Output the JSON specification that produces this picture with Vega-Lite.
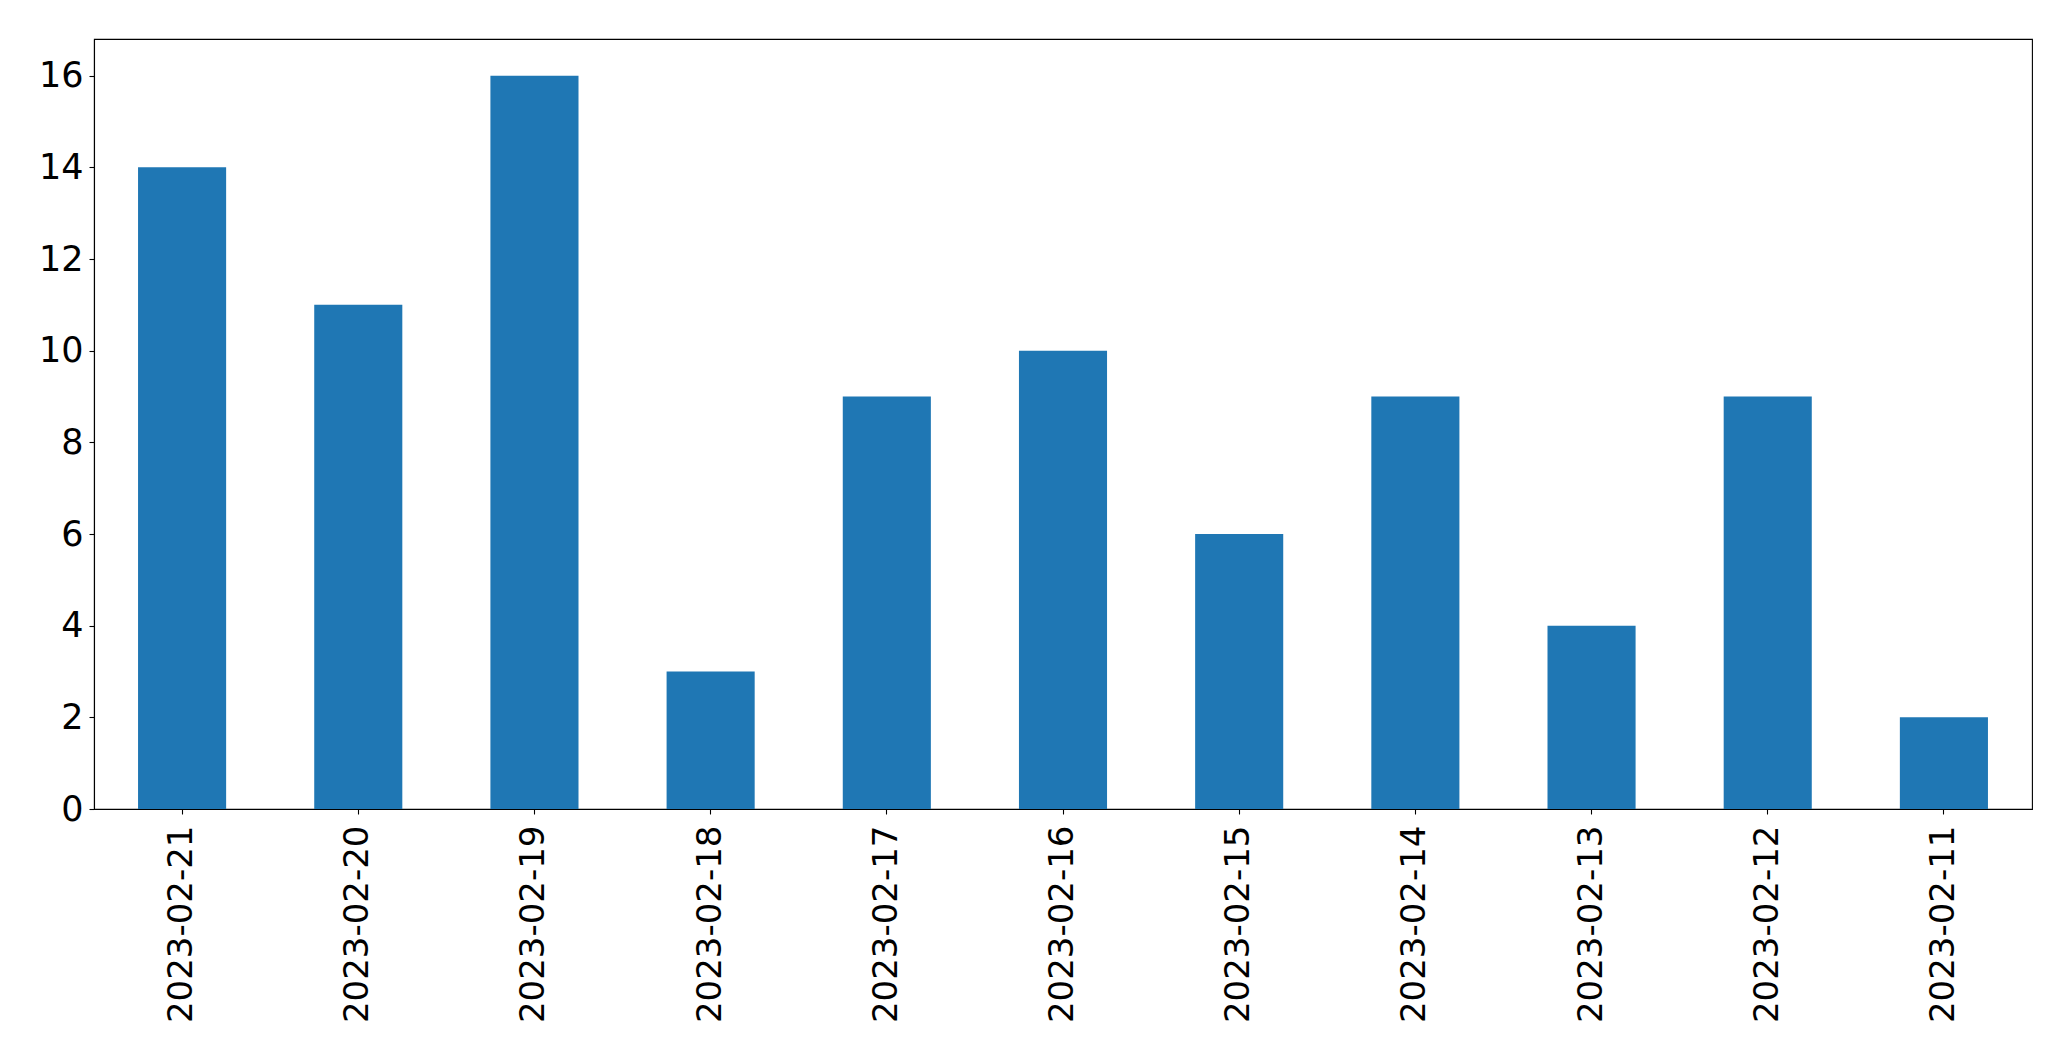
{
  "$schema": "https://vega.github.io/schema/vega-lite/v6.json",
  "autosize": {"type": "none"},
  "padding": {"left": 94, "top": 39, "right": 39, "bottom": 252},
  "width": 1938,
  "height": 770,
  "background": "white",
  "config": {
    "view": {"stroke": "black", "strokeWidth": 1.1},
    "font": "DejaVu Sans"
  },
  "data": {
    "values": [
      {"date": "2023-02-21", "count": 14},
      {"date": "2023-02-20", "count": 11},
      {"date": "2023-02-19", "count": 16},
      {"date": "2023-02-18", "count": 3},
      {"date": "2023-02-17", "count": 9},
      {"date": "2023-02-16", "count": 10},
      {"date": "2023-02-15", "count": 6},
      {"date": "2023-02-14", "count": 9},
      {"date": "2023-02-13", "count": 4},
      {"date": "2023-02-12", "count": 9},
      {"date": "2023-02-11", "count": 2}
    ]
  },
  "mark": {"type": "bar", "color": "#1f77b4"},
  "encoding": {
    "x": {
      "field": "date",
      "type": "nominal",
      "sort": null,
      "scale": {"paddingInner": 0.5, "paddingOuter": 0.25},
      "axis": {
        "title": null,
        "labelAngle": -90,
        "labelAlign": "right",
        "labelBaseline": "middle",
        "labelFont": "DejaVu Sans",
        "labelFontSize": 34,
        "labelLimit": 0,
        "labelColor": "black",
        "labelPadding": 11,
        "tickColor": "black",
        "tickSize": 5,
        "tickWidth": 1.1,
        "domainColor": "black",
        "domainWidth": 1.1,
        "grid": false
      }
    },
    "y": {
      "field": "count",
      "type": "quantitative",
      "scale": {"domain": [0, 16.8], "nice": false, "zero": true},
      "axis": {
        "title": null,
        "values": [0, 2, 4, 6, 8, 10, 12, 14, 16],
        "labelFont": "DejaVu Sans",
        "labelFontSize": 35,
        "labelColor": "black",
        "labelPadding": 6,
        "tickColor": "black",
        "tickSize": 5,
        "tickWidth": 1.1,
        "domainColor": "black",
        "domainWidth": 1.1,
        "grid": false
      }
    }
  }
}
